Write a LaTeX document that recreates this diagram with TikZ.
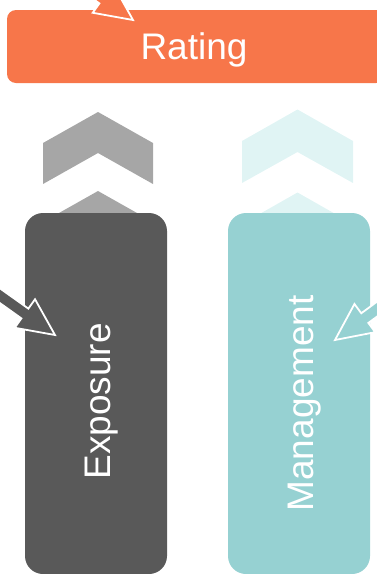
\documentclass[tikz,border=0pt]{standalone}
\usepackage{fontspec}
\setmainfont{Liberation Sans}
\definecolor{orng}{HTML}{F7764A}
\definecolor{darkg}{HTML}{595959}
\definecolor{tealc}{HTML}{96D1D2}
\definecolor{chevgray}{HTML}{A6A6A6}
\definecolor{chevteal}{HTML}{E0F4F4}
\tikzset{
  colbox/.style={draw=none, inner sep=0pt, rounded corners=18pt, minimum width=142pt, minimum height=361pt},
  lbl/.style={text=white, inner sep=0pt, font=\fontsize{37}{44}\selectfont},
  outl/.style={draw=white, line width=1.8pt, line join=miter},
  bigarrow/.pic={\path[pic actions] (0,0) -- (-37,17.5) -- (-37,6) -- (-150,6) -- (-150,-6) -- (-37,-6) -- (-37,-17.5) -- cycle;}
}
\begin{document}
\begin{tikzpicture}[x=1pt,y=-1pt]
\useasboundingbox (0,0) rectangle (377,574);
\clip (0,0) rectangle (377,574);
% chevrons
\fill[chevgray] (43,143) -- (98,112) -- (153,143) -- (153,184) -- (98,153) -- (43,184) -- cycle;
\fill[chevgray] (43,222) -- (98,191) -- (153,222) -- (153,263) -- (98,232) -- (43,263) -- cycle;
\fill[chevteal] (242,141) -- (297.5,109.5) -- (353,141) -- (353,183) -- (297.5,152) -- (242,183) -- cycle;
\fill[chevteal] (242,224) -- (297.5,192.5) -- (353,224) -- (353,266) -- (297.5,235) -- (242,266) -- cycle;
% boxes
\node[colbox, fill=darkg] (expo) at (96,393.5) {};
\node[colbox, fill=tealc] (mgmt) at (299,393.5) {};
\node[draw=none, fill=orng, inner sep=0pt, rounded corners=9pt, minimum width=378pt, minimum height=73pt] (rating) at (196,46.5) {};
% texts
\node[lbl, anchor=base] (ratingtxt) at (194,59.5) {Rating};
\node[lbl, rotate=90, anchor=base] (expotxt) at (110.7,401.5) {Exposure};
\node[lbl, rotate=90, anchor=base] (mgmttxt) at (313,403.5) {Management};
% arrows
\pic[outl, fill=orng, rotate=-35.5] (arrT) at (133,20) {bigarrow};
\pic[outl, fill=darkg, rotate=-35.5] (arrL) at (55,335) {bigarrow};
\pic[outl, fill=tealc, rotate=-143.7] (arrR) at (335,340) {bigarrow};
\end{tikzpicture}
\end{document}
